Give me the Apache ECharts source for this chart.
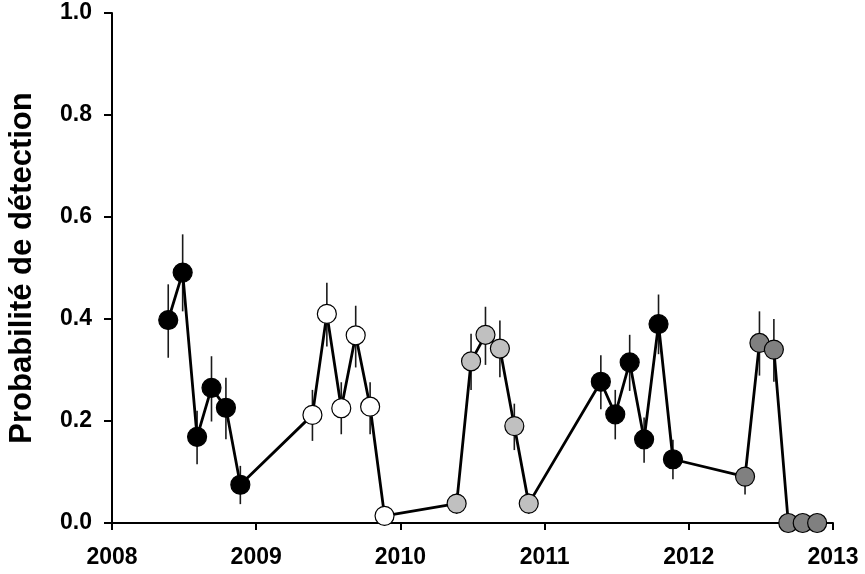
<!DOCTYPE html>
<html>
<head>
<meta charset="utf-8">
<script src="https://cdn.jsdelivr.net/npm/echarts@6/dist/echarts.min.js"></script>
<style>html,body{margin:0;padding:0;background:#fff}#c{width:865px;height:574px}</style>
</head>
<body>
<div id="c"></div>
<script>
var dates = [2008.39,2008.49,2008.59,2008.69,2008.79,2008.89,
             2009.39,2009.49,2009.59,2009.69,2009.79,2009.89,
             2010.39,2010.49,2010.59,2010.69,2010.79,2010.89,
             2011.39,2011.49,2011.59,2011.69,2011.79,2011.89,
             2012.39,2012.49,2012.59,2012.69,2012.79,2012.89];
var probs = [0.398,0.491,0.169,0.265,0.226,0.075,
             0.212,0.410,0.225,0.368,0.228,0.014,
             0.038,0.317,0.369,0.342,0.190,0.038,
             0.277,0.213,0.315,0.164,0.390,0.125,
             0.091,0.353,0.340,0.000,0.000,0.000];
var lower = [0.324,0.415,0.115,0.199,0.164,0.037,
             0.161,0.346,0.174,0.305,0.174,0.010,
             0.018,0.261,0.310,0.286,0.143,0.018,
             0.223,0.164,0.259,0.118,0.331,0.086,
             0.056,0.289,0.277,0.000,0.000,0.000];
var upper = [0.468,0.566,0.220,0.327,0.285,0.112,
             0.261,0.471,0.276,0.426,0.276,0.020,
             0.058,0.371,0.424,0.397,0.234,0.058,
             0.329,0.261,0.369,0.207,0.448,0.163,
             0.110,0.415,0.400,0.000,0.000,0.000];
var groups = [0,0,0,0,0,0, 1,1,1,1,1,1, 2,2,2,2,2,2, 3,3,3,3,3,3, 4,4,4,4,4,4];
var groupColors = ['#000000','#ffffff','#c0c0c0','#000000','#808080'];
var xTicks = [2008,2009,2010,2011,2012,2013];
var yTicks = [0,0.2,0.4,0.6,0.8,1.0];

var FONT = '"Liberation Sans", Arial, sans-serif';
var chart = echarts.init(document.getElementById('c'), null, {renderer:'canvas'});

var lineData = dates.map(function(d,i){return [d, probs[i]];});
var errData = dates.map(function(d,i){return [d, lower[i], upper[i]];});
var pointData = dates.map(function(d,i){
  return {value:[d, probs[i]], itemStyle:{color:groupColors[groups[i]], opacity:1}};
});

chart.setOption({
  animation:false,
  backgroundColor:'#ffffff',
  grid:{left:112, right:32, top:13, bottom:51, containLabel:false, outerBoundsMode:'none'},
  xAxis:{
    type:'value', min:xTicks[0], max:xTicks[xTicks.length-1], interval:1,
    axisLine:{lineStyle:{color:'#000', width:2}},
    axisTick:{show:true, length:7, lineStyle:{color:'#000', width:2}},
    axisLabel:{color:'#000', fontFamily:FONT, fontWeight:'bold', fontSize:23, margin:23,
      formatter:function(v){return String(Math.round(v));}},
    splitLine:{show:false}
  },
  yAxis:{
    type:'value', min:yTicks[0], max:yTicks[yTicks.length-1], interval:0.2,
    name:'Probabilité de détection', nameLocation:'middle', nameGap:74, nameRotate:90,
    nameTextStyle:{color:'#000', fontFamily:FONT, fontWeight:'bold', fontSize:31},
    axisLine:{show:true, lineStyle:{color:'#000', width:2}},
    axisTick:{show:true, length:8, lineStyle:{color:'#000', width:2}},
    axisLabel:{color:'#000', fontFamily:FONT, fontWeight:'bold', fontSize:23, margin:20,
      formatter:function(v){return v.toFixed(1);}},
    splitLine:{show:false}
  },
  series:[
    {
      type:'custom', clip:false, z:1,
      data:errData,
      renderItem:function(params, api){
        var x = api.value(0);
        var lo = api.coord([x, api.value(1)]);
        var hi = api.coord([x, api.value(2)]);
        return {type:'line', shape:{x1:lo[0], y1:lo[1], x2:hi[0], y2:hi[1]},
          style:{stroke:'#1a1a1a', lineWidth:1.6}};
      }
    },
    {
      type:'line', z:2, data:lineData, showSymbol:false, symbol:'none',
      clip:false,
      lineStyle:{color:'#000', width:2.8}
    },
    {
      type:'scatter', z:3, data:pointData, symbol:'circle', symbolSize:19,
      clip:false,
      itemStyle:{borderColor:'#000', borderWidth:1.2, opacity:1}
    }
  ]
});
</script>
</body>
</html>
